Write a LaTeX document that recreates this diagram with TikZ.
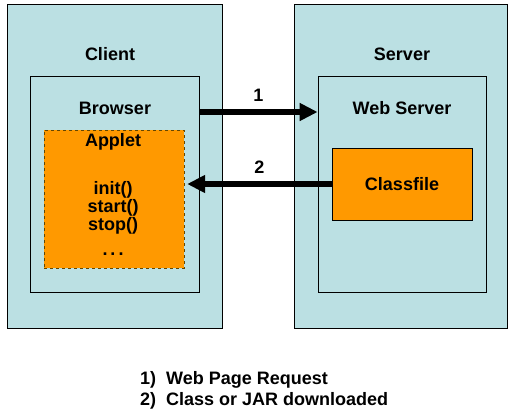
\documentclass[tikz,border=0pt]{standalone}
\usepackage{fontspec}
\setmainfont{Liberation Sans}
\usetikzlibrary{arrows.meta}
\definecolor{hostblue}{RGB}{187,224,227}
\definecolor{partorange}{RGB}{255,153,0}
\definecolor{dashbrown}{RGB}{100,70,0}
\tikzset{
  lbl/.style={inner sep=0pt,font=\fontsize{18}{21}\selectfont\bfseries},
  host/.style={draw=black,fill=hostblue,line width=0.8pt,inner sep=0pt},
  part/.style={fill=partorange,inner sep=0pt},
  bigarrow/.style={line width=6pt,-{Triangle[length=18pt,width=17pt]}}
}
\begin{document}
\begin{tikzpicture}[x=1pt,y=-1pt]
    \useasboundingbox[fill=white] (0,0) rectangle (513,417);

    % client side
    \node[host,minimum width=215pt,minimum height=324pt] at (114.5,166) (client) {};
    \node[host,minimum width=169pt,minimum height=216pt] at (114.5,184) (browser) {};
    \node[part,draw=dashbrown,dashed,minimum width=140pt,minimum height=138pt] at (114,199) (applet) {};

    \node[lbl] at (110,54) (clientlbl) {Client};
    \node[lbl] at (115,108) (browserlbl) {Browser};
    \node[lbl] at (113,142) (appletlbl) {Applet};
    \node[lbl] at (113,190) (m1) {init()};
    \node[lbl] at (113,208) (m2) {start()};
    \node[lbl] at (113,226) (m3) {stop()};
    \node[lbl] at (113,254) (m4) {.\,.\,.};

    % server side
    \node[host,minimum width=213pt,minimum height=324pt] at (400.5,166) (server) {};
    \node[host,minimum width=168pt,minimum height=216pt] at (402,184) (webserver) {};
    \node[part,draw=black,line width=0.8pt,minimum width=140pt,minimum height=72pt] at (402,184) (classfile) {};

    \node[lbl] at (402,54) (serverlbl) {Server};
    \node[lbl] at (402,108) (webserverlbl) {Web Server};
    \node[lbl] at (402,184) (classfilelbl) {Classfile};

    % requests
	\path[bigarrow] ([yshift=72pt]browser.east) edge node [lbl,above=8pt] {1} ([yshift=72pt]webserver.west);
	\path[bigarrow] (classfile.west) edge node [lbl,above=8pt] {2} ([xshift=3pt]applet.east |- classfile.west);

    % legend
    \node[lbl,anchor=west] at (140,380) (leg1) {1)\ \ Web Page Request};
    \node[lbl,anchor=west] at (140,401) (leg2) {2)\ \ Class or JAR downloaded};
\end{tikzpicture}
\end{document}
